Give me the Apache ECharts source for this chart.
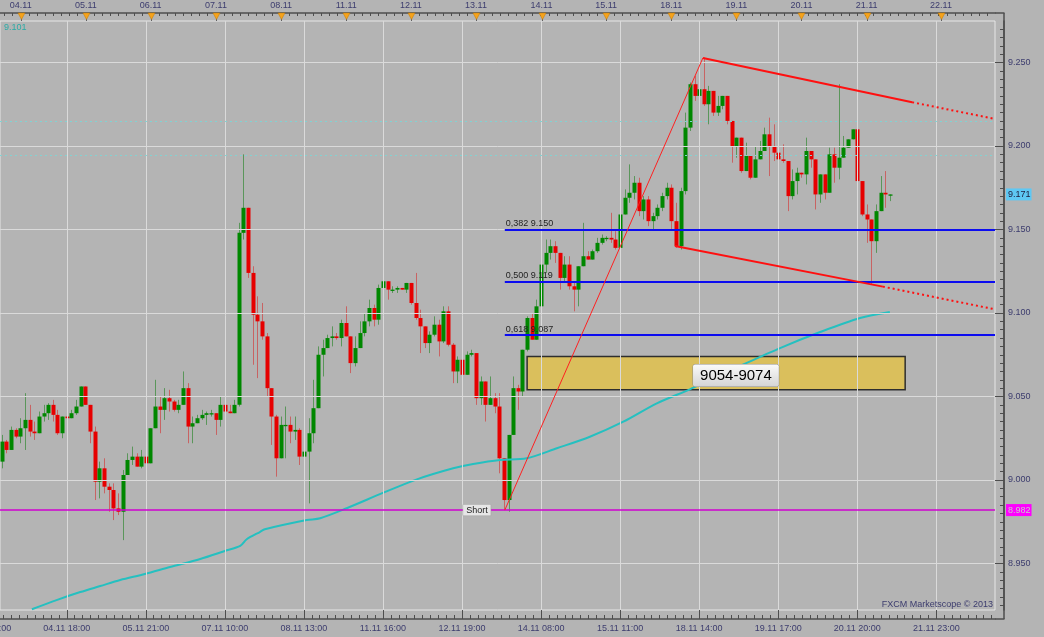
<!DOCTYPE html>
<html>
<head>
<meta charset="utf-8">
<script src="https://cdn.jsdelivr.net/npm/echarts@6.0.0/dist/echarts.min.js"></script>
<style>
html,body{margin:0;padding:0;background:#b4b4b4;overflow:hidden;}
#chart{width:1044px;height:637px;}
</style>
</head>
<body>
<div id="chart"></div>
<script>
// ---------------- DATA ----------------
const opens = [
9.011,9.023,9.018,9.030,9.026,9.031,9.036,9.029,9.028,9.038,
9.040,9.045,9.039,9.028,9.038,9.037,9.040,9.044,9.056,9.045,
9.029,8.999,9.007,8.996,8.994,8.983,8.981,9.003,9.012,9.014,
9.008,9.014,9.010,9.031,9.044,9.042,9.049,9.047,9.042,9.045,
9.055,9.032,9.034,9.037,9.039,9.040,9.040,9.036,9.045,9.041,
9.040,9.045,9.148,9.163,9.124,9.099,9.095,9.086,9.055,9.038,
9.013,9.033,9.033,9.029,9.030,9.014,9.017,9.028,9.043,9.075,
9.079,9.085,9.086,9.085,9.094,9.086,9.070,9.079,9.088,9.095,
9.103,9.096,9.115,9.119,9.114,9.114,9.115,9.114,9.118,9.106,
9.097,9.092,9.082,9.087,9.093,9.083,9.101,9.081,9.065,9.072,
9.063,9.075,9.076,9.049,9.059,9.045,9.049,9.044,9.013,8.988,
9.027,9.055,9.053,9.078,9.097,9.084,9.104,9.129,9.136,9.140,
9.136,9.121,9.129,9.116,9.114,9.128,9.134,9.132,9.137,9.142,
9.145,9.145,9.144,9.139,9.159,9.169,9.172,9.178,9.161,9.168,
9.155,9.158,9.163,9.170,9.175,9.155,9.140,9.173,9.211,9.237,
9.230,9.234,9.225,9.233,9.220,9.224,9.230,9.215,9.200,9.205,
9.185,9.194,9.181,9.192,9.197,9.207,9.200,9.196,9.192,9.191,
9.170,9.179,9.184,9.183,9.197,9.192,9.171,9.183,9.172,9.195,
9.187,9.193,9.199,9.204,9.210,9.179,9.159,9.156,9.143,9.161,
9.172,9.171];
const highs = [
9.027,9.024,9.032,9.031,9.037,9.052,9.045,9.035,9.041,9.045,
9.046,9.048,9.042,9.038,9.040,9.042,9.048,9.056,9.056,9.045,
9.032,9.011,9.013,8.998,8.998,8.992,9.006,9.016,9.020,9.016,
9.018,9.018,9.031,9.060,9.050,9.055,9.054,9.048,9.048,9.065,
9.058,9.038,9.039,9.042,9.041,9.042,9.040,9.050,9.048,9.045,
9.048,9.154,9.195,9.163,9.128,9.110,9.106,9.088,9.055,9.039,
9.038,9.044,9.038,9.038,9.031,9.017,9.037,9.060,9.080,9.084,
9.087,9.092,9.088,9.096,9.104,9.086,9.086,9.095,9.100,9.108,
9.105,9.117,9.123,9.119,9.116,9.116,9.115,9.118,9.118,9.124,
9.102,9.092,9.089,9.098,9.096,9.104,9.104,9.082,9.074,9.078,
9.077,9.078,9.076,9.062,9.059,9.062,9.052,9.052,9.013,9.027,
9.062,9.057,9.078,9.098,9.100,9.108,9.139,9.144,9.144,9.143,
9.136,9.134,9.134,9.119,9.128,9.154,9.137,9.138,9.145,9.147,
9.146,9.160,9.149,9.167,9.174,9.189,9.182,9.181,9.170,9.170,
9.160,9.165,9.172,9.178,9.177,9.166,9.175,9.220,9.238,9.242,
9.234,9.253,9.236,9.233,9.230,9.230,9.230,9.215,9.205,9.205,
9.202,9.194,9.200,9.203,9.211,9.217,9.213,9.196,9.201,9.191,
9.186,9.187,9.184,9.205,9.197,9.192,9.183,9.183,9.199,9.199,
9.237,9.206,9.204,9.210,9.210,9.179,9.165,9.156,9.165,9.182,
9.185,9.171];
const lows = [
9.007,9.016,9.018,9.025,9.022,9.018,9.026,9.024,9.028,9.035,
9.036,9.035,9.027,9.025,9.034,9.037,9.039,9.044,9.045,9.022,
8.988,8.989,8.992,8.981,8.976,8.979,8.964,9.003,9.009,9.008,
9.007,9.010,9.010,9.031,9.028,9.036,9.041,9.041,9.040,9.045,
9.022,9.022,9.034,9.036,9.033,9.038,9.027,9.032,9.026,9.040,
9.040,9.044,9.144,9.121,9.069,9.061,9.084,9.050,9.021,9.002,
9.013,9.013,9.022,9.024,9.009,9.013,8.986,9.022,9.043,9.062,
9.079,9.080,9.084,9.080,9.086,9.064,9.068,9.079,9.086,9.092,
9.092,9.093,9.112,9.108,9.112,9.112,9.114,9.112,9.105,9.096,
9.076,9.079,9.076,9.086,9.074,9.082,9.080,9.058,9.058,9.058,
9.063,9.074,9.045,9.045,9.035,9.045,9.040,9.004,8.982,8.981,
9.027,9.042,9.050,9.077,9.084,9.084,9.104,9.124,9.132,9.130,
9.114,9.118,9.114,9.101,9.104,9.128,9.132,9.132,9.136,9.141,
9.143,9.142,9.138,9.139,9.159,9.166,9.168,9.158,9.156,9.152,
9.150,9.156,9.161,9.168,9.150,9.139,9.138,9.171,9.209,9.227,
9.221,9.224,9.213,9.218,9.218,9.222,9.213,9.190,9.193,9.184,
9.185,9.180,9.181,9.192,9.197,9.182,9.191,9.178,9.190,9.161,
9.168,9.171,9.181,9.177,9.187,9.162,9.166,9.168,9.172,9.178,
9.180,9.193,9.199,9.204,9.168,9.158,9.142,9.117,9.136,9.161,
9.163,9.167];
const closes = [
9.023,9.018,9.030,9.026,9.031,9.036,9.029,9.028,9.038,9.040,
9.045,9.039,9.028,9.038,9.037,9.040,9.044,9.056,9.045,9.029,
8.999,9.007,8.996,8.994,8.983,8.981,9.003,9.012,9.014,9.008,
9.014,9.010,9.031,9.044,9.042,9.049,9.047,9.042,9.045,9.055,
9.032,9.034,9.037,9.039,9.040,9.040,9.036,9.045,9.041,9.040,
9.045,9.148,9.163,9.124,9.099,9.095,9.086,9.055,9.038,9.013,
9.033,9.033,9.029,9.030,9.014,9.017,9.028,9.043,9.075,9.079,
9.085,9.086,9.085,9.094,9.086,9.070,9.079,9.088,9.095,9.103,
9.096,9.115,9.119,9.114,9.114,9.115,9.114,9.118,9.106,9.097,
9.092,9.082,9.087,9.093,9.083,9.101,9.081,9.065,9.072,9.063,
9.075,9.076,9.049,9.059,9.045,9.049,9.044,9.013,8.988,9.027,
9.055,9.053,9.078,9.097,9.084,9.104,9.129,9.136,9.140,9.136,
9.121,9.129,9.116,9.114,9.128,9.134,9.132,9.137,9.142,9.145,
9.145,9.144,9.139,9.159,9.169,9.172,9.178,9.161,9.168,9.155,
9.158,9.163,9.170,9.175,9.155,9.140,9.173,9.211,9.237,9.230,
9.234,9.225,9.233,9.220,9.224,9.230,9.215,9.200,9.205,9.185,
9.194,9.181,9.192,9.197,9.207,9.200,9.196,9.192,9.191,9.170,
9.179,9.184,9.183,9.197,9.192,9.171,9.183,9.172,9.195,9.187,
9.193,9.199,9.204,9.210,9.179,9.159,9.156,9.143,9.161,9.172,
9.171,9.171];

// moving average (read at sampled bar positions)
const maIdx  = [6.5,11.8,16.9,21.2,25.5,30.8,36.2,42.7,48.0,51.3,52.7,55.6,56.6,65.6,68.5,74.2,82.1,89.3,97.1,101.4,107.2,112.9,119.4,126.5,133.7,140.9,148.0,152.3,158.8,167.4,176.0,184.6,191.0];
const maVals = [8.9226,8.9281,8.9329,8.9365,8.9401,8.9437,8.9479,8.9527,8.9575,8.9605,8.9645,8.9690,8.9705,8.9760,8.9771,8.9831,8.9924,9.0004,9.0070,9.0096,9.0120,9.0130,9.0190,9.0259,9.0349,9.0459,9.0543,9.0599,9.0683,9.0790,9.0886,9.0970,9.1006];

// axes text
const dayIdx    = [4.1,18.1,32.05,46.1,60.1,74.1,88,102,116.1,130,144,158,172,186,202];
const dayLabels = ['04.11','05.11','06.11','07.11','08.11','11.11','12.11','13.11','14.11','15.11','18.11','19.11','20.11','21.11','22.11'];
const timeIdx    = [14,31,48,65,82,99,116,133,150,167,184,201];
const timeLabels = ['04.11 18:00','05.11 21:00','07.11 10:00','08.11 13:00','11.11 16:00','12.11 19:00','14.11 08:00','15.11 11:00','18.11 14:00','19.11 17:00','20.11 20:00','21.11 23:00'];
const cutLabelIdx = -3, cutLabel = '03.11 15:00';
const priceTicks = [8.95,9.00,9.05,9.10,9.15,9.20,9.25];

// drawings
const fibLevels = [9.150, 9.119, 9.087];
const fibNames  = ['0,382 9.150','0,500 9.119','0,618 9.087'];
const fibStart  = 108.2;
const swingLine = [[108.2, 8.982],[150.8, 9.2527]];
const upperChannel = [[150.8, 9.2527],[195.8, 9.2262],[213.62, 9.2162]];
const lowerChannel = [[144.8, 9.1401],[189.5, 9.1158],[213.62, 9.1022]];
const zone = {from: 113, to: 194.3, low: 9.054, high: 9.074, label: '9054-9074', labelAt: [157.9, 9.0626]};
const shortLevel = 8.982, shortAt = 102.2, shortText = 'Short';
const lastPrice = 9.171;
const guideLevels = [9.215, 9.1946];

// ---------------- CHART ----------------
const X_MIN = -0.359, X_MAX = 213.62;
const Y_MIN = 8.92216, Y_MAX = 9.27485;
const G = {left: 0, right: 49, top: 21, bottom: 27};
const W = 1044, H = 637;
const FONT = '"Liberation Sans", Arial, sans-serif';
const AX = '#3c3c6e';
const RULER = '#4e4e4e';

function pick(keys, labels, v){
  for (let k = 0; k < keys.length; k++) if (Math.abs(keys[k] - v) < 1e-6) return labels[k];
  return '';
}
const topTicks = [];
for (let v = dayIdx[0] - 1.747*3; v <= X_MAX; v += 1.747) if (v >= X_MIN) topTicks.push(+v.toFixed(3));
const botTicks = [];
for (let v = timeIdx[0] - 1.7*8; v <= X_MAX; v += 1.7) if (v >= X_MIN) botTicks.push(+v.toFixed(3));
const yMinor = [];
for (let v = 8.925; v <= 9.2701; v += 0.005) yMinor.push(+v.toFixed(3));

const candleData = opens.map((o, i) => [i, o, closes[i], lows[i], highs[i]]);

const chart = echarts.init(document.getElementById('chart'), null, {renderer: 'canvas'});

const baseX = {type: 'value', min: X_MIN, max: X_MAX, splitLine: {show: false}};
const baseY = {type: 'value', min: Y_MIN, max: Y_MAX, splitLine: {show: false}, scale: true};

// ruler frame corners (outside the grid, axis offsets 8/9 px)
const gR = W - G.right, gB = H - G.bottom;
const frame = [
  {type: 'line', shape: {x1: gR, y1: G.top - 8, x2: gR + 9.5, y2: G.top - 8}},
  {type: 'line', shape: {x1: gR + 9, y1: G.top - 8, x2: gR + 9, y2: gB + 9}},
  {type: 'line', shape: {x1: gR, y1: gB + 9, x2: gR + 9.5, y2: gB + 9}}
].map(e => Object.assign(e, {silent: true, z: 20, style: {stroke: RULER, lineWidth: 1.5}}));

function hLine(v, style){ return [{coord: [X_MIN, v], lineStyle: style}, {coord: [X_MAX, v]}]; }

const option = {
  animation: false,
  backgroundColor: '#b4b4b4',
  title: [
    {text: maVals[maVals.length - 1].toFixed(3), left: 4, top: 23, padding: 0,
     textStyle: {color: '#2aaba6', fontSize: 9, fontWeight: 'normal', fontFamily: FONT}},
    {text: 'FXCM Marketscope © 2013', right: 51, top: 600, padding: 0,
     textStyle: {color: AX, fontSize: 9, fontWeight: 'normal', fontFamily: FONT}}
  ],
  graphic: frame,
  grid: {left: G.left, right: G.right, top: G.top, bottom: G.bottom, show: true, borderColor: '#e6e6e6', borderWidth: 1,
         backgroundColor: 'transparent', containLabel: false, outerBoundsMode: 'none'},
  xAxis: [
    Object.assign({}, baseX, {position: 'bottom', offset: 9,
      axisLine: {show: true, onZero: false, lineStyle: {color: RULER, width: 1.5}},
      axisTick: {show: true, inside: true, length: 9, customValues: timeIdx, lineStyle: {color: RULER}},
      axisLabel: {show: true, customValues: timeIdx, margin: 5, color: AX, fontSize: 9, fontFamily: FONT,
                  formatter: v => pick(timeIdx, timeLabels, v)}}),
    Object.assign({}, baseX, {position: 'bottom', offset: 9,
      axisLine: {show: false, onZero: false},
      axisTick: {show: true, inside: true, length: 4, customValues: botTicks, lineStyle: {color: RULER}},
      axisLabel: {show: false}}),
    Object.assign({}, baseX, {position: 'top', offset: 8,
      axisLine: {show: true, onZero: false, lineStyle: {color: RULER, width: 1.5}},
      axisTick: {show: true, inside: true, length: 3, customValues: topTicks, lineStyle: {color: RULER}},
      axisLabel: {show: true, customValues: dayIdx, margin: 3, color: AX, fontSize: 9, fontFamily: FONT,
                  formatter: v => pick(dayIdx, dayLabels, v)}})
  ],
  yAxis: [
    Object.assign({}, baseY, {position: 'right', offset: 9,
      axisLine: {show: true, onZero: false, lineStyle: {color: RULER, width: 1.5}},
      axisTick: {show: true, inside: true, length: 9, customValues: priceTicks, lineStyle: {color: RULER}},
      axisLabel: {show: true, customValues: priceTicks, margin: 4, color: AX, fontSize: 9, fontFamily: FONT,
                  formatter: v => v.toFixed(3)}}),
    Object.assign({}, baseY, {position: 'right', offset: 9,
      axisLine: {show: false, onZero: false},
      axisTick: {show: true, inside: true, length: 4, customValues: yMinor, lineStyle: {color: RULER}},
      axisLabel: {show: false}}),
    Object.assign({}, baseY, {position: 'right', offset: 9,
      axisLine: {show: false, onZero: false}, axisTick: {show: false},
      axisLabel: {show: true, customValues: [lastPrice, shortLevel], margin: 2, fontSize: 9, fontFamily: FONT,
        formatter: v => Math.abs(v - lastPrice) < 1e-6 ? '{c|' + lastPrice.toFixed(3) + '}' : '{m|' + shortLevel.toFixed(3) + '}',
        rich: {
          c: {backgroundColor: '#5ec8f4', color: '#202040', padding: [2, 1, 1, 2], fontSize: 9, fontFamily: FONT},
          m: {backgroundColor: '#ff00ff', color: '#c8c8c8', padding: [2, 1, 1, 2], fontSize: 9, fontFamily: FONT}
        }}})
  ],
  series: [
    {
      name: 'grid', type: 'line', data: [], z: 1, silent: true,
      markLine: {
        silent: true, symbol: ['none', 'none'], label: {show: false}, animation: false,
        lineStyle: {color: '#dadada', width: 1, type: 'solid'},
        data: priceTicks.map(v => ({yAxis: v})).concat(timeIdx.map(v => ({xAxis: v})))
      }
    },
    {
      name: 'levels', type: 'line', data: [], z: 2, silent: true,
      markLine: {
        silent: true, symbol: ['none', 'none'], label: {show: false}, animation: false,
        data: [hLine(shortLevel, {color: '#d000d0', width: 1.5, type: 'solid'})]
          .concat(guideLevels.map(v => hLine(v, {color: 'rgba(130,210,210,1)', width: 1, type: [2, 3]})))
      },
      markArea: {
        silent: true,
        itemStyle: {color: '#dabf5c', borderColor: '#2e2e2e', borderWidth: 1.5},
        data: [[{coord: [zone.from, zone.high]}, {coord: [zone.to, zone.low]}]]
      }
    },
    {
      name: 'candles', type: 'custom', z: 3, silent: true,
      data: candleData,
      encode: {x: 0, y: [1, 2, 3, 4]},
      renderItem: function (params, api) {
        const i = api.value(0), o = api.value(1), c = api.value(2), l = api.value(3), h = api.value(4);
        const pO = api.coord([i, o]), pC = api.coord([i, c]), pH = api.coord([i, h]), pL = api.coord([i, l]);
        const up = c >= o;
        const px = Math.round(pO[0]);
        const top = Math.min(pO[1], pC[1]);
        const bh = Math.max(Math.abs(pO[1] - pC[1]), 1.3);
        return {type: 'group', children: [
          {type: 'line', shape: {x1: px + 0.5, y1: pH[1], x2: px + 0.5, y2: pL[1]},
           style: {stroke: up ? 'rgba(0,120,0,0.5)' : 'rgba(225,0,0,0.45)', lineWidth: 1}},
          {type: 'rect', shape: {x: px - 1.5, y: top, width: 4, height: bh},
           style: {fill: up ? '#008700' : '#e60000'}}
        ]};
      }
    },
    {
      name: 'MA', type: 'line', z: 4, silent: true, symbol: 'none', smooth: 0.3,
      data: maIdx.map((x, k) => [x, maVals[k]]),
      lineStyle: {color: '#25c0c0', width: 2}
    },
    {
      name: 'drawings', type: 'line', data: [], z: 5, silent: true,
      markLine: {
        silent: true, symbol: ['none', 'none'], animation: false,
        label: {show: false},
        data: fibLevels.map((v, k) => [
          {coord: [fibStart, v], name: fibNames[k], lineStyle: {color: '#0c0cf0', width: 2, type: 'solid'},
           label: {show: true, position: 'insideStartTop', formatter: '{b}', color: '#1e1e1e', fontSize: 9, fontFamily: FONT, distance: 1, padding: 0}},
          {coord: [X_MAX, v]}
        ]).concat([
          [{coord: swingLine[0], lineStyle: {color: '#ff2020', width: 1, type: 'solid'}}, {coord: swingLine[1]}],
          [{coord: upperChannel[0], lineStyle: {color: '#ff1010', width: 2, type: 'solid'}}, {coord: upperChannel[1]}],
          [{coord: upperChannel[1], lineStyle: {color: '#ff1010', width: 2, type: [2, 3]}}, {coord: upperChannel[2]}],
          [{coord: lowerChannel[0], lineStyle: {color: '#ff1010', width: 2, type: 'solid'}}, {coord: lowerChannel[1]}],
          [{coord: lowerChannel[1], lineStyle: {color: '#ff1010', width: 2, type: [2, 3]}}, {coord: lowerChannel[2]}]
        ])
      }
    },
    {
      name: 'dayMarks', type: 'custom', z: 10, clip: false, silent: true,
      data: dayIdx.map(d => [d, Y_MAX]),
      encode: {x: 0, y: 1},
      renderItem: function (params, api) {
        const p = api.coord([api.value(0), api.value(1)]);
        const x = Math.round(p[0]) + 0.5;
        const y0 = params.coordSys.y - 8;
        return {type: 'group', children: [
          {type: 'line', shape: {x1: x, y1: y0, x2: x, y2: y0 + 8}, style: {stroke: '#606060', lineWidth: 1}},
          {type: 'polygon', shape: {points: [[x - 3.5, y0], [x + 3.5, y0], [x, y0 + 6.5]]},
           style: {fill: '#f5a21c', stroke: '#c27a00', lineWidth: 0.5}}
        ]};
      }
    },
    {
      name: 'notes', type: 'custom', z: 11, clip: false, silent: true,
      data: [[shortAt, shortLevel, 0], [zone.labelAt[0], zone.labelAt[1], 1], [cutLabelIdx, Y_MIN, 2]],
      encode: {x: 0, y: 1},
      renderItem: function (params, api) {
        const p = api.coord([api.value(0), api.value(1)]);
        const kind = api.value(2);
        if (kind === 0) {
          return {type: 'text', x: p[0], y: p[1], style: {text: shortText, fill: '#202020', fontSize: 9, fontFamily: FONT,
            align: 'center', verticalAlign: 'middle', backgroundColor: '#e6e6e6', padding: [1, 3, 1, 3],
            borderColor: '#9a9a9a', borderWidth: 0.5}};
        }
        if (kind === 2) {
          return {type: 'text', x: p[0], y: p[1] + 14, style: {text: cutLabel, fill: AX, fontSize: 9, fontFamily: FONT,
            align: 'center', verticalAlign: 'top'}};
        }
        return {type: 'text', x: p[0], y: p[1], style: {text: zone.label, fill: '#000000', fontSize: 15, fontFamily: FONT,
          align: 'center', verticalAlign: 'middle',
          backgroundColor: new echarts.graphic.LinearGradient(0, 0, 0, 1, [{offset: 0, color: '#fbfbfb'}, {offset: 1, color: '#d4d4d4'}]),
          padding: [4, 7, 3, 7], borderColor: '#8c8c8c', borderWidth: 0.5, borderRadius: 2}};
      }
    }
  ]
};
chart.setOption(option);
</script>
</body>
</html>
